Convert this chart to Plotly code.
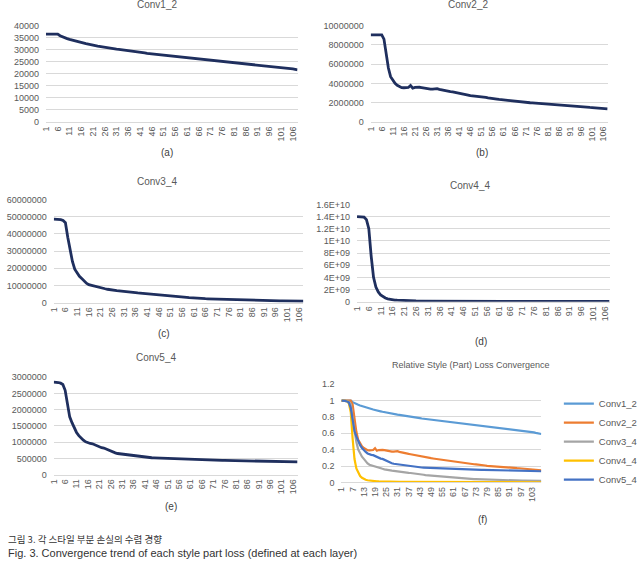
import plotly.graph_objects as go

W, H = 643, 568

# ---------------- data ----------------
iterations = list(range(1, 109))

conv1_2 = [
    36500, 36500, 36500, 36500, 36500, 36500, 35800, 35300, 34900, 34600,
    34300, 34000, 33700, 33500, 33200, 33000, 32800, 32500, 32300, 32000,
    31800, 31700, 31500, 31300, 31100, 31000, 30800, 30700, 30500, 30300,
    30200, 30100, 30000, 29800, 29600, 29500, 29400, 29200, 29100, 29000,
    28900, 28800, 28700, 28500, 28400, 28300, 28200, 28100, 28000, 27900,
    27800, 27700, 27600, 27500, 27400, 27300, 27200, 27100, 27000, 26900,
    26800, 26700, 26600, 26500, 26400, 26300, 26100, 26000, 25900, 25800,
    25700, 25600, 25500, 25400, 25300, 25200, 25100, 25000, 24900, 24800,
    24700, 24600, 24500, 24400, 24300, 24200, 24100, 24000, 23900, 23800,
    23700, 23600, 23500, 23400, 23300, 23200, 23100, 23000, 22900, 22800,
    22700, 22600, 22400, 22300, 22100, 22000, 21800, 21600,
]

conv2_2 = [
    9050000, 9050000, 9050000, 9050000, 9050000, 9050000, 8600000, 7000000, 5600000, 4700000,
    4300000, 4000000, 3800000, 3650000, 3560000, 3550000, 3560000, 3580000, 3780000, 3500000,
    3580000, 3620000, 3600000, 3570000, 3520000, 3450000, 3420000, 3400000, 3410000, 3430000,
    3450000, 3380000, 3320000, 3280000, 3230000, 3180000, 3150000, 3120000, 3080000, 3030000,
    2990000, 2950000, 2900000, 2850000, 2780000, 2720000, 2700000, 2690000, 2680000, 2650000,
    2620000, 2580000, 2540000, 2490000, 2440000, 2410000, 2390000, 2370000, 2340000, 2310000,
    2280000, 2250000, 2220000, 2190000, 2160000, 2130000, 2100000, 2080000, 2070000, 2060000,
    2040000, 2010000, 1990000, 1980000, 1960000, 1930000, 1900000, 1870000, 1840000, 1820000,
    1800000, 1780000, 1760000, 1740000, 1730000, 1720000, 1710000, 1690000, 1670000, 1650000,
    1630000, 1610000, 1600000, 1590000, 1580000, 1570000, 1550000, 1530000, 1510000, 1500000,
    1490000, 1480000, 1470000, 1460000, 1450000, 1440000, 1400000, 1350000,
]

conv3_4 = [
    48600000, 48600000, 48500000, 48300000, 47800000, 46500000, 38000000, 30000000, 24000000, 19500000,
    17000000, 15300000, 14000000, 12500000, 11300000, 10500000, 10100000, 9800000, 9500000, 9100000,
    8700000, 8400000, 8100000, 7800000, 7500000, 7300000, 7100000, 7000000, 6900000, 6700000,
    6600000, 6450000, 6300000, 6150000, 6000000, 5850000, 5700000, 5600000, 5500000, 5400000,
    5300000, 5150000, 5000000, 4800000, 4550000, 4350000, 4250000, 4200000, 4150000, 4050000,
    3950000, 3850000, 3700000, 3600000, 3500000, 3400000, 3250000, 3100000, 2950000, 2800000,
    2700000, 2650000, 2600000, 2500000, 2400000, 2300000, 2250000, 2200000, 2150000, 2100000,
    2050000, 2000000, 1950000, 1900000, 1850000, 1800000, 1750000, 1700000, 1680000, 1650000,
    1620000, 1600000, 1580000, 1550000, 1530000, 1500000, 1470000, 1440000, 1400000, 1350000,
    1300000, 1250000, 1200000, 1150000, 1120000, 1100000, 1080000, 1060000, 1050000, 1040000,
    1030000, 1020000, 1010000, 1000000, 990000, 980000, 970000, 950000,
]

conv4_4 = [
    14.0e9, 14.0e9, 14.0e9, 13.9e9, 13.5e9, 12.0e9, 7.5e9, 4.0e9, 2.4e9, 1.6e9,
    1.1e9, 0.8e9, 0.6e9, 0.47e9, 0.38e9, 0.32e9, 0.27e9, 0.24e9, 0.21e9, 0.19e9,
    0.17e9, 0.15e9, 0.14e9, 0.13e9, 0.12e9, 0.11e9, 0.105e9, 0.10e9, 0.095e9, 0.09e9,
    0.088e9, 0.085e9, 0.082e9, 0.08e9, 0.078e9, 0.075e9, 0.073e9, 0.07e9, 0.068e9, 0.066e9,
    0.064e9, 0.062e9, 0.06e9, 0.059e9, 0.058e9, 0.057e9, 0.056e9, 0.055e9, 0.054e9, 0.053e9,
    0.052e9, 0.051e9, 0.05e9, 0.049e9, 0.048e9, 0.047e9, 0.046e9, 0.045e9, 0.045e9, 0.044e9,
    0.044e9, 0.043e9, 0.043e9, 0.042e9, 0.042e9, 0.041e9, 0.041e9, 0.04e9, 0.04e9, 0.04e9,
    0.039e9, 0.039e9, 0.038e9, 0.038e9, 0.038e9, 0.037e9, 0.037e9, 0.037e9, 0.036e9, 0.036e9,
    0.036e9, 0.035e9, 0.035e9, 0.035e9, 0.034e9, 0.034e9, 0.034e9, 0.034e9, 0.033e9, 0.033e9,
    0.033e9, 0.033e9, 0.032e9, 0.032e9, 0.032e9, 0.032e9, 0.031e9, 0.031e9, 0.031e9, 0.031e9,
    0.03e9, 0.03e9, 0.03e9, 0.03e9, 0.03e9, 0.029e9, 0.029e9, 0.029e9,
]

conv5_4 = [
    2850000, 2850000, 2840000, 2820000, 2780000, 2600000, 2200000, 1780000, 1600000, 1420000,
    1300000, 1200000, 1120000, 1060000, 1010000, 980000, 960000, 950000, 920000, 880000,
    840000, 830000, 820000, 790000, 750000, 710000, 690000, 670000, 650000, 640000,
    630000, 620000, 610000, 600000, 590000, 585000, 580000, 575000, 565000, 555000,
    545000, 535000, 525000, 520000, 518000, 515000, 510000, 505000, 500000, 495000,
    490000, 488000, 486000, 484000, 482000, 480000, 476000, 472000, 468000, 465000,
    462000, 460000, 458000, 456000, 455000, 454000, 453000, 452000, 450000, 448000,
    446000, 444000, 442000, 440000, 439000, 438000, 437000, 436000, 435000, 434000,
    432000, 430000, 428000, 426000, 424000, 422000, 421000, 420000, 420000, 419000,
    418000, 418000, 417000, 416000, 416000, 415000, 414000, 413000, 412000, 411000,
    410000, 405000, 398000, 395000, 393000, 392000, 391000, 390000,
]

series_names = ["Conv1_2", "Conv2_2", "Conv3_4", "Conv4_4", "Conv5_4"]
series_values = [conv1_2, conv2_2, conv3_4, conv4_4, conv5_4]
relative_colors = ["#5B9BD5", "#ED7D31", "#A5A5A5", "#FFC000", "#4472C4"]
relative_title = "Relative Style (Part) Loss Convergence"
panel_labels = ["(a)", "(b)", "(c)", "(d)", "(e)", "(f)"]

main_xticks = list(range(1, 109, 5))
rel_xticks = list(range(1, 109, 6))

y_tickvals = [
    [0, 5000, 10000, 15000, 20000, 25000, 30000, 35000, 40000],
    [0, 2000000, 4000000, 6000000, 8000000, 10000000],
    [0, 10000000, 20000000, 30000000, 40000000, 50000000, 60000000],
    [0, 2e9, 4e9, 6e9, 8e9, 1e10, 1.2e10, 1.4e10, 1.6e10],
    [0, 500000, 1000000, 1500000, 2000000, 2500000, 3000000],
    [0, 0.2, 0.4, 0.6, 0.8, 1.0, 1.2],
]
y_ticktext = [
    ["0", "5000", "10000", "15000", "20000", "25000", "30000", "35000", "40000"],
    ["0", "2000000", "4000000", "6000000", "8000000", "10000000"],
    ["0", "10000000", "20000000", "30000000", "40000000", "50000000", "60000000"],
    ["0", "2E+09", "4E+09", "6E+09", "8E+09", "1E+10", "1.2E+10", "1.4E+10", "1.6E+10"],
    ["0", "500000", "1000000", "1500000", "2000000", "2500000", "3000000"],
    ["0", "0.2", "0.4", "0.6", "0.8", "1", "1.2"],
]
caption_ko = "그림 3. 각 스타일 부분 손실의 수렴 경향"
caption_en = "Fig. 3. Convergence trend of each style part loss (defined at each layer)"

# ---------------- layout geometry (pixels) ----------------
# (left, right, top, bottom) of each plot area
boxes = [
    (42, 300, 21, 119),
    (375, 618, 21, 119),
    (50, 306, 198, 303),
    (361, 620, 203, 302),
    (50, 300, 379, 478),
    (345, 550, 386, 486),
]
title_pos = [(156, -1), (475, -1), (156, 180), (477, 184), (155, 359), (478, 366)]
label_pos = [(166, 150), (489, 150), (163, 334), (488, 343), (170, 510), (490, 524)]

def px(x):
    return x / W

def py(y):
    return 1 - y / H

NAVY = "#1F2F5E"
GRID = "#D9D9D9"
TICK = "#595959"
FONT = "Liberation Sans, Arial, sans-serif"

fig = go.Figure()

for i in range(6):
    n = i + 1
    xa = "x" if n == 1 else f"x{n}"
    ya = "y" if n == 1 else f"y{n}"
    if i < 5:
        fig.add_trace(go.Scatter(
            x=iterations, y=series_values[i], mode="lines",
            line=dict(color=NAVY, width=2.8), showlegend=False,
            xaxis=xa, yaxis=ya, hoverinfo="skip",
        ))
    else:
        for k, name in enumerate(series_names):
            base = series_values[k][0]
            rel = [v / base for v in series_values[k]]
            fig.add_trace(go.Scatter(
                x=iterations, y=rel, mode="lines", name=name,
                line=dict(color=relative_colors[k], width=2.2),
                legendgroup=name, xaxis=xa, yaxis=ya, hoverinfo="skip",
            ))

layout = dict(
    width=W, height=H, autosize=False,
    margin=dict(l=0, r=0, t=0, b=0),
    paper_bgcolor="white", plot_bgcolor="white",
    font=dict(family=FONT, color=TICK, size=9),
    legend=dict(
        x=px(568), y=py(391), xanchor="left", yanchor="top",
        font=dict(size=9.5, color=TICK, family=FONT),
        bgcolor="rgba(0,0,0,0)", tracegroupgap=2, itemwidth=30,
        traceorder="normal",
    ),
)

for i, (l, r, t, b) in enumerate(boxes):
    n = i + 1
    xkey = "xaxis" if n == 1 else f"xaxis{n}"
    ykey = "yaxis" if n == 1 else f"yaxis{n}"
    ya = "y" if n == 1 else f"y{n}"
    xa = "x" if n == 1 else f"x{n}"
    layout[xkey] = dict(
        domain=[px(l), px(r)], anchor=ya, range=[1, 108],
        tickmode="array", tickvals=(rel_xticks if i == 5 else main_xticks),
        tickangle=-90, tickfont=dict(size=9, color=TICK, family=FONT),
        showgrid=False, zeroline=False, showline=True, linecolor=GRID, linewidth=1,
        ticks="", fixedrange=True,
    )
    top = y_tickvals[i][-1]
    layout[ykey] = dict(
        domain=[py(b), py(t)], anchor=xa, range=[0, top],
        tickmode="array", tickvals=y_tickvals[i], ticktext=y_ticktext[i],
        tickfont=dict(size=9, color=TICK, family=FONT),
        showgrid=True, gridcolor=GRID, gridwidth=1, zeroline=False,
        showline=False, ticks="", ticklabelstandoff=6, fixedrange=True,
    )

fig.update_layout(**layout)

annotations = []
titles = series_names + [relative_title]
for i in range(6):
    tx, ty = title_pos[i]
    annotations.append(dict(
        text=titles[i], x=px(tx), y=py(ty), xref="paper", yref="paper",
        xanchor="center", yanchor="middle", showarrow=False,
        font=dict(size=(9 if i == 5 else 10), color=TICK, family=FONT),
    ))
    lx, ly = label_pos[i]
    annotations.append(dict(
        text=panel_labels[i], x=px(lx), y=py(ly), xref="paper", yref="paper",
        xanchor="center", yanchor="middle", showarrow=False,
        font=dict(size=10, color="#404040", family=FONT),
    ))
annotations.append(dict(
    text=caption_ko, x=px(1), y=py(544), xref="paper", yref="paper",
    xanchor="left", yanchor="middle", showarrow=False,
    font=dict(size=9.5, color="#333333", family="Noto Sans CJK KR, sans-serif"),
))
annotations.append(dict(
    text=caption_en, x=px(1), y=py(558), xref="paper", yref="paper",
    xanchor="left", yanchor="middle", showarrow=False,
    font=dict(size=11, color="#333333", family=FONT),
))
fig.update_layout(annotations=annotations)

fig.write_html("out.html")
